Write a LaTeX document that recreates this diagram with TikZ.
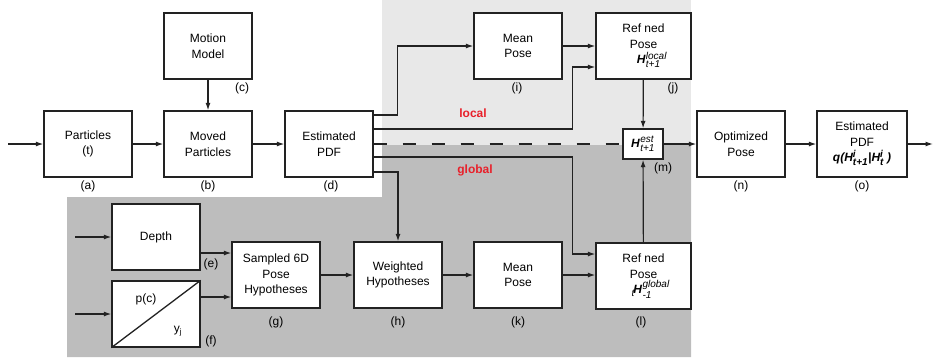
\documentclass[tikz,border=0pt]{standalone}
\usepackage{fontspec}
\setmainfont{Liberation Sans}
\usetikzlibrary{arrows.meta,calc}
\definecolor{lgray}{HTML}{E8E8E8}
\definecolor{dgray}{HTML}{BDBDBD}
\definecolor{lred}{HTML}{E8202A}
\definecolor{ink}{HTML}{222222}
\newcommand{\Hb}{\textbf{\textit{H}}}
\newcommand{\smi}[1]{\mbox{\fontsize{10}{10}\selectfont\itshape #1}}
\newcommand{\HS}[2]{\Hb\kern0.3pt$^{\smi{#1}}_{\smi{#2}}$}
\begin{document}
\begin{tikzpicture}[x=1pt,y=-1pt,font=\fontsize{12}{15.5}\selectfont,
 box/.style={draw=ink,line width=1.3pt,fill=white,minimum width=88pt,minimum height=66pt,align=center,inner sep=2pt},
 arr/.style={draw=ink,line width=1.2pt,-{Latex[length=7.5pt,width=5pt]}},
 ln/.style={draw=ink,line width=1.2pt},
 lab/.style={font=\fontsize{12}{14}\selectfont,inner sep=1pt},
 zone/.style={text=lred,font=\fontsize{12}{14}\selectfont\bfseries}]
\useasboundingbox (0,0) rectangle (934,362);
% backgrounds
\fill[lgray] (382,0) rectangle (691,145);
\fill[dgray] (67,197) -- (382,197) -- (382,145) -- (691,145) -- (691,357) -- (67,357) -- cycle;
% nodes
\node[box] (a) at (88,144) {Particles\\(t)};
\node[box] (b) at (208,144) {Moved\\Particles};
\node[box] (c) at (208,46) {Motion\\Model};
\node[box] (d) at (329,144) {Estimated\\PDF};
\node[box] (i) at (518,46) {Mean\\Pose};
\node[box,minimum width=95pt] (j) at (643.5,46) {Ref ned\\Pose\\\hspace*{1.4em}\HS{local}{t+1}};
\node[box,minimum width=40pt,minimum height=30pt,inner sep=0pt] (m) at (643,144) {\HS{est}{t+1}};
\node[box] (n) at (741,144) {Optimized\\Pose};
\node[box,minimum width=90pt] (o) at (862,144) {Estimated\\PDF\\\textbf{\textit{q(H$^{\smi{i}}_{\smi{t+1}}$|H$^{\smi{i}}_{\smi{t}}$\kern3pt)}}};
\node[box] (e) at (156,237) {Depth};
\node[box] (f) at (156,314) {};
\draw[ink,line width=1.3pt] (f.south west) -- (f.north east);
\node[lab] (fp) at (146,299) {p(c)};
\node[lab] (fy) at (178,331) {y$_{\mbox{\fontsize{8}{8}\selectfont j}}$};
\node[box] (g) at (276,275) {Sampled 6D\\Pose\\Hypotheses};
\node[box] (h) at (398,275) {Weighted\\Hypotheses};
\node[box] (k) at (518,275) {Mean\\Pose};
\node[box,minimum width=95pt] (l) at (643.5,276) {Ref ned\\Pose\\\hspace*{1.2em}$_{\smi{t}}$\kern-1.5pt\Hb\kern0.3pt$^{\smi{global}}_{\smi{-1}}$};
% labels
\node[lab] (la) at (88,186) {(a)};
\node[lab] (lb) at (208,186) {(b)};
\node[lab] (lc) at (242,88) {(c)};
\node[lab] (ld) at (331,186) {(d)};
\node[lab] (le) at (211,264) {(e)};
\node[lab] (lf) at (211,341) {(f)};
\node[lab] (lg) at (276,322) {(g)};
\node[lab] (lh) at (398,322) {(h)};
\node[lab] (li) at (517,88) {(i)};
\node[lab] (lj) at (673,88) {(j)};
\node[lab] (lk) at (518,322) {(k)};
\node[lab] (ll) at (641,322) {(l)};
\node[lab] (lm) at (663,168) {(m)};
\node[lab] (ln) at (741,186) {(n)};
\node[lab] (lo) at (862,186) {(o)};
\node[zone] (loc) at (473,113) {local};
\node[zone] (glo) at (475,170) {global};
% free ends
\coordinate (ain) at (8,144);
\coordinate (ein) at (75,237);
\coordinate (fin) at (75,314);
\coordinate (oout) at (933,144);
% connectors
\draw[arr] (ain) -- (a);
\draw[arr] (a) -- (b);
\draw[arr] (c) -- (b);
\draw[arr] (b) -- (d);
\draw[ln,dash pattern=on 13pt off 16pt] (d.east) -- (m.west);
\draw[arr] ([yshift=29pt]d.east) -- ++(24,0) |- (i);
\draw[arr] (i) -- (j);
\draw[arr] ([yshift=15pt]d.east) -- ++(199,0) |- ([yshift=-21pt]j.west);
\draw[arr] ([yshift=-13pt]d.east) -- ++(199,0) |- ([yshift=22pt]l.west);
\draw[arr] ([yshift=-28pt]d.east) -| (h.north);
\draw[arr] (j) -- (m);
\draw[arr] (l) -- (m);
\draw[arr] (m) -- (n);
\draw[arr] (n) -- (o);
\draw[arr] (o) -- (oout);
\draw[arr] (ein) -- (e);
\draw[arr] (fin) -- (f);
\draw[arr] ([yshift=-16pt]e.east) -- ([yshift=-16pt]e.east -| g.west);
\draw[arr] ([yshift=17pt]f.east) -- ([yshift=17pt]f.east -| g.west);
\draw[arr] (g) -- (h);
\draw[arr] (h) -- (k);
\draw[arr] (k.east) -- (k.east -| l.west);
\end{tikzpicture}
\end{document}
